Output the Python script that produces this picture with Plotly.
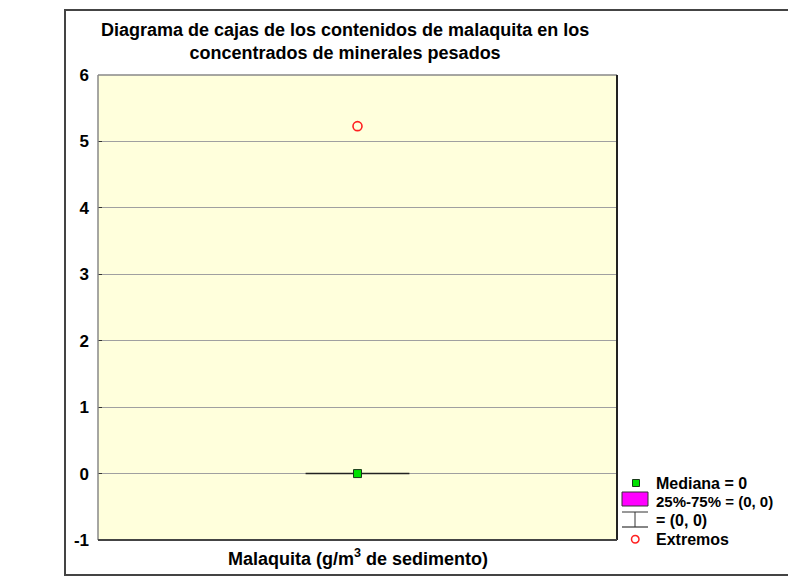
import plotly.graph_objects as go

# ---- data ----
categories = ["Malaquita"]
q1 = [0]
median = [0]
q3 = [0]
lower_fence = [0]
upper_fence = [0]
outliers = [5.23]
y_ticks = [-1, 0, 1, 2, 3, 4, 5, 6]

W, H = 796, 577
OFF = 8  # page offset of the figure in the browser
# plot area in screen pixels
L, R, T, B = 98, 617, 75, 540

def px(x):
    return (x - L) / (R - L)

def py(y):
    return (B - y) / (B - T)

FONT = "Liberation Sans, Arial, sans-serif"

fig = go.Figure()

fig.add_trace(go.Box(
    x=categories, q1=q1, median=median, q3=q3,
    lowerfence=lower_fence, upperfence=upper_fence,
    fillcolor="#FF00FF", line=dict(color="#222222", width=1.5),
    width=0.2, whiskerwidth=1, boxpoints=False, showlegend=False,
))
fig.add_trace(go.Scatter(
    x=categories, y=median, mode="markers",
    marker=dict(symbol="square", size=8, color="#00E000",
                line=dict(color="#1a3a1a", width=1)),
    showlegend=False, hoverinfo="skip",
))
fig.add_trace(go.Scatter(
    x=categories * len(outliers), y=outliers, mode="markers",
    marker=dict(symbol="circle-open", size=9, color="#FF2020",
                line=dict(color="#FF2020", width=1.6)),
    showlegend=False,
))

shapes = []
frame_col = "#444444"
shapes.append(dict(type="line", xref="paper", yref="paper",
                   x0=px(65), x1=px(65), y0=py(10), y1=py(575),
                   line=dict(color=frame_col, width=2)))
shapes.append(dict(type="line", xref="paper", yref="paper",
                   x0=px(64), x1=px(810), y0=py(10), y1=py(10),
                   line=dict(color=frame_col, width=2)))
shapes.append(dict(type="line", xref="paper", yref="paper",
                   x0=px(64), x1=px(810), y0=py(575), y1=py(575),
                   line=dict(color=frame_col, width=2)))
shapes.append(dict(type="line", xref="paper", yref="paper", x0=0, x1=1, y0=1, y1=1,
                   line=dict(color="#888888", width=1.5)))
shapes.append(dict(type="line", xref="paper", yref="paper", x0=0, x1=0, y0=0, y1=1,
                   line=dict(color="#888888", width=1.5)))
shapes.append(dict(type="line", xref="paper", yref="paper", x0=1, x1=1, y0=0, y1=1,
                   line=dict(color="#222222", width=2)))
shapes.append(dict(type="line", xref="paper", yref="paper", x0=0, x1=1, y0=0, y1=0,
                   line=dict(color="#444444", width=2)))

# legend symbols
shapes.append(dict(type="rect", xref="paper", yref="paper",
                   x0=px(632.5), x1=px(639.5), y0=py(479.5), y1=py(486.5),
                   fillcolor="#00E000", line=dict(color="#1a3a1a", width=1)))
shapes.append(dict(type="rect", xref="paper", yref="paper",
                   x0=px(622), x1=px(648), y0=py(492), y1=py(506),
                   fillcolor="#FF00FF", line=dict(color="#333333", width=1)))
shapes.append(dict(type="line", xref="paper", yref="paper",
                   x0=px(622), x1=px(648), y0=py(512), y1=py(512),
                   line=dict(color="#333333", width=1)))
shapes.append(dict(type="line", xref="paper", yref="paper",
                   x0=px(635), x1=px(635), y0=py(512), y1=py(527),
                   line=dict(color="#333333", width=1)))
shapes.append(dict(type="line", xref="paper", yref="paper",
                   x0=px(622), x1=px(648), y0=py(527), y1=py(527),
                   line=dict(color="#333333", width=1.2)))
shapes.append(dict(type="circle", xref="paper", yref="paper",
                   x0=px(631.5), x1=px(639), y0=py(535.5), y1=py(543),
                   line=dict(color="#FF2020", width=1.5)))

annotations = []
legend_texts = ["Mediana = 0", "25%-75% = (0, 0)", "= (0, 0)", "Extremos"]
legend_sizes = [16, 15, 16, 16]
legend_y = [483, 501, 520, 539]
for txt, yy, sz in zip(legend_texts, legend_y, legend_sizes):
    annotations.append(dict(text=f"<b>{txt}</b>", xref="paper", yref="paper",
                            x=px(654), y=py(yy), xanchor="left", yanchor="middle",
                            showarrow=False, font=dict(family=FONT, size=sz, color="#000")))

annotations.append(dict(
    text="<b>Diagrama de cajas de los contenidos de malaquita en los<br>concentrados de minerales pesados</b>",
    xref="paper", yref="paper", x=px(345), y=py(41), xanchor="center", yanchor="middle",
    showarrow=False, align="center", font=dict(family=FONT, size=18, color="#000")))

annotations.append(dict(
    text="<b>Malaquita (g/m<sup>3</sup> de sedimento)</b>",
    xref="paper", yref="paper", x=px(358), y=py(557), xanchor="center", yanchor="middle",
    showarrow=False, font=dict(family=FONT, size=18, color="#000")))

fig.update_layout(
    width=W, height=H,
    margin=dict(l=L - OFF, r=W - (R - OFF), t=T - OFF, b=H - (B - OFF)),
    paper_bgcolor="white",
    plot_bgcolor="#FFFFDC",
    showlegend=False,
    shapes=shapes,
    annotations=annotations,
    font=dict(family=FONT, color="#000"),
)
fig.update_xaxes(
    showticklabels=False, ticks="", showgrid=False, zeroline=False,
    range=[-0.5, 0.5],
)
fig.update_yaxes(
    range=[-1, 6], tickvals=y_ticks, ticktext=[str(v) for v in y_ticks],
    showgrid=True, gridcolor="#A0A0A0", gridwidth=1, zeroline=False,
    ticks="inside", ticklen=4, tickcolor="#333333",
    tickfont=dict(family=FONT, size=17, weight="bold"),
    ticklabelstandoff=8,
)

fig.write_html("out.html")
